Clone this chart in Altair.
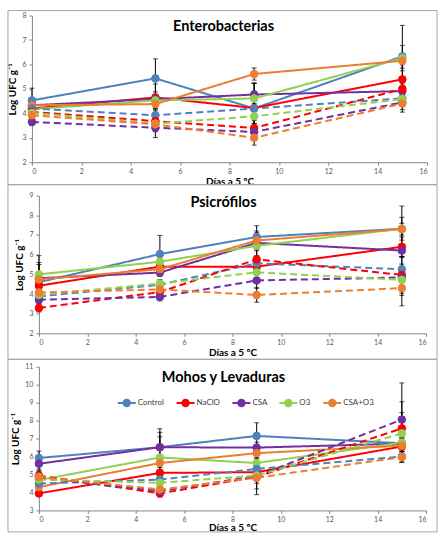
import altair as alt
import pandas as pd

DAYS = [0, 5, 9, 15]
TREATMENTS = ["Control", "NaClO", "CSA", "O3", "CSA+O3"]
COLORS = ["#4F81BD", "#FF0000", "#7030A0", "#92D050", "#ED7D31"]
X_TICKS = [0, 2, 4, 6, 8, 10, 12, 14, 16]

# Enterobacterias
ENT_SOLID = {
    "Control": [4.53, 5.43, 4.20, 6.33],
    "NaClO": [4.20, 4.65, 4.22, 5.39],
    "CSA": [4.33, 4.58, 4.77, 4.91],
    "O3": [4.17, 4.53, 4.61, 6.26],
    "CSA+O3": [4.33, 4.38, 5.61, 6.15],
}
ENT_DASHED = {
    "Control": [4.20, 3.92, 4.20, 4.61],
    "NaClO": [4.06, 3.68, 3.40, 5.00],
    "CSA": [3.65, 3.41, 3.24, 4.45],
    "O3": [4.02, 3.58, 3.88, 4.58],
    "CSA+O3": [3.92, 3.55, 3.00, 4.40],
}
ENT_SOLID_ERR = {
    "Control": [0.50, 0.80, 1.05, 1.27],
    "NaClO": [0.20, 0.55, 1.00, 0.60],
    "CSA": [0.15, 0.20, 0.45, 0.30],
    "O3": [0.15, 0.35, 0.30, 0.52],
    "CSA+O3": [0.10, 0.20, 0.25, 0.30],
}
ENT_DASHED_ERR = {
    "Control": [0.15, 0.30, 0.20, 0.20],
    "NaClO": [0.10, 0.35, 0.30, 0.30],
    "CSA": [0.15, 0.40, 0.35, 0.30],
    "O3": [0.10, 0.30, 0.30, 0.20],
    "CSA+O3": [0.10, 0.30, 0.30, 0.35],
}

# Psicrófilos
PSI_SOLID = {
    "Control": [4.60, 6.03, 6.90, 7.32],
    "NaClO": [4.42, 5.39, 5.39, 6.40],
    "CSA": [4.80, 5.09, 6.60, 6.21],
    "O3": [5.00, 5.64, 6.45, 7.32],
    "CSA+O3": [4.74, 5.26, 6.72, 7.30],
}
PSI_DASHED = {
    "Control": [3.88, 4.47, 5.56, 5.26],
    "NaClO": [3.29, 4.10, 5.76, 4.97],
    "CSA": [3.71, 3.85, 4.69, 4.84],
    "O3": [3.96, 4.53, 5.10, 4.72],
    "CSA+O3": [4.08, 4.23, 3.95, 4.30],
}
PSI_SOLID_ERR = {
    "Control": [0.90, 0.95, 0.57, 1.15],
    "NaClO": [0.30, 0.20, 0.40, 0.50],
    "CSA": [0.80, 0.20, 0.40, 0.30],
    "O3": [0.95, 0.30, 0.75, 0.58],
    "CSA+O3": [0.30, 0.30, 0.40, 0.30],
}
PSI_DASHED_ERR = {
    "Control": [0.20, 0.20, 0.40, 0.60],
    "NaClO": [0.20, 0.20, 0.50, 0.93],
    "CSA": [0.20, 0.20, 0.40, 0.40],
    "O3": [0.20, 0.20, 0.40, 0.80],
    "CSA+O3": [0.20, 0.30, 0.37, 0.90],
}

# Mohos y Levaduras
MOH_SOLID = {
    "Control": [5.92, 6.52, 7.15, 6.74],
    "NaClO": [3.95, 5.09, 5.13, 6.56],
    "CSA": [5.60, 6.52, 6.50, 6.72],
    "O3": [4.69, 5.95, 5.64, 6.78],
    "CSA+O3": [4.30, 5.64, 6.19, 6.61],
}
MOH_DASHED = {
    "Control": [4.50, 4.72, 5.31, 6.00],
    "NaClO": [4.94, 3.95, 4.87, 7.57],
    "CSA": [4.82, 4.08, 4.91, 8.06],
    "O3": [4.72, 4.54, 4.94, 7.29],
    "CSA+O3": [4.87, 4.17, 4.82, 5.97],
}
MOH_SOLID_ERR = {
    "Control": [0.38, 0.83, 0.73, 0.30],
    "NaClO": [0.15, 0.30, 0.30, 0.30],
    "CSA": [0.30, 1.03, 0.30, 0.30],
    "O3": [0.30, 1.15, 0.30, 0.30],
    "CSA+O3": [0.20, 0.40, 0.30, 0.30],
}
MOH_DASHED_ERR = {
    "Control": [0.30, 0.30, 0.30, 0.30],
    "NaClO": [0.30, 0.20, 0.67, 1.48],
    "CSA": [0.30, 0.30, 0.40, 2.04],
    "O3": [0.30, 0.30, 0.30, 1.16],
    "CSA+O3": [0.30, 0.20, 0.94, 0.30],
}

FONT = "Lato"
LEGEND_SYMBOL = ("M-1,0L1,0M-0.36,0A0.36,0.36,0,1,1,0.36,0"
                 "A0.36,0.36,0,1,1,-0.36,0Z")


def build_df(solid, dashed, solid_err, dashed_err):
    rows = []
    for kind, vals, errs in (("solid", solid, solid_err), ("dashed", dashed, dashed_err)):
        for t in TREATMENTS:
            for d, v, e in zip(DAYS, vals[t], errs[t]):
                rows.append({"day": d, "treatment": t, "kind": kind,
                             "value": v, "lo": v - e, "hi": v + e,
                             "sid": t + "_" + kind})
    return pd.DataFrame(rows)


def panel(title, solid, dashed, solid_err, dashed_err, ymin, ymax, width, height,
          inset, border, title_pos, show_legend, xtitle_pad):
    df = build_df(solid, dashed, solid_err, dashed_err)
    base = alt.Chart(df)
    xscale = alt.Scale(domain=[0, 16], nice=False, range=[inset, width])
    xaxis = alt.Axis(values=X_TICKS, title="Días a 5 ºC", titlePadding=xtitle_pad,
                     labelPadding=2, tickSize=3, labelOverlap=False)
    yscale = alt.Scale(domain=[ymin, ymax], nice=False)
    yaxis = alt.Axis(values=list(range(ymin, ymax + 1)), title="Log UFC g⁻¹",
                     titlePadding=4, labelPadding=3, tickSize=3, labelOverlap=False,
                     offset=-inset)

    def X(field):
        return alt.X(field, scale=xscale, axis=xaxis)

    def Y(field):
        return alt.Y(field, scale=yscale, axis=yaxis)

    color_scale = alt.Scale(domain=TREATMENTS, range=COLORS)
    if show_legend:
        leg = alt.Legend(orient="none", legendX=85, legendY=26, direction="horizontal",
                         columns=5, title=None, symbolType=LEGEND_SYMBOL,
                         symbolSize=324, symbolStrokeWidth=2, labelFont=FONT,
                         labelFontSize=8, labelColor="#404040", labelOffset=1,
                         columnPadding=8)
    else:
        leg = None

    bl, bt, br, bb = border
    frame = alt.Chart(pd.DataFrame({"k": [0]})).mark_rect(
        fill="white", fillOpacity=0, stroke="#A6A6A6", strokeWidth=1
    ).encode(x=alt.value(bl), x2=alt.value(width + br),
             y=alt.value(bt), y2=alt.value(height + bb))

    tx, ty = title_pos
    ttl = alt.Chart(pd.DataFrame({"t": [title]})).mark_text(
        font=FONT, fontSize=14.5, fontWeight="bold", color="black", baseline="middle"
    ).encode(text="t:N", x=alt.value(tx), y=alt.value(ty))

    rules = base.mark_rule(color="black", strokeWidth=1).encode(
        x=X("day:Q"), y=Y("lo:Q"), y2="hi:Q")
    cap_lo = base.mark_tick(color="black", orient="horizontal", size=5, thickness=1).encode(
        x=X("day:Q"), y=Y("lo:Q"))
    cap_hi = base.mark_tick(color="black", orient="horizontal", size=5, thickness=1).encode(
        x=X("day:Q"), y=Y("hi:Q"))
    lines = base.mark_line(strokeWidth=2).encode(
        x=X("day:Q"), y=Y("value:Q"),
        stroke=alt.Stroke("treatment:N", scale=color_scale, legend=leg),
        strokeDash=alt.StrokeDash("kind:N", scale=alt.Scale(domain=["solid", "dashed"],
                                                             range=[[1, 0], [7, 4]]),
                                  legend=None),
        detail="sid:N")
    points = base.mark_point(filled=True, size=58, opacity=1, strokeWidth=1).encode(
        x=X("day:Q"), y=Y("value:Q"),
        fill=alt.Fill("treatment:N", scale=color_scale, legend=leg),
        stroke=alt.Stroke("treatment:N", scale=color_scale, legend=leg),
        detail="sid:N")
    return alt.layer(frame, rules, cap_lo, cap_hi, lines, points, ttl).properties(
        width=width, height=height)


p1 = panel("Enterobacterias", ENT_SOLID, ENT_DASHED, ENT_SOLID_ERR, ENT_DASHED_ERR,
           2, 8, 396, 147, 0, (-24, -5, 10, 22.5), (192, 11.5), False, 2)
p2 = panel("Psicrófilos", PSI_SOLID, PSI_DASHED, PSI_SOLID_ERR, PSI_DASHED_ERR,
           2, 9, 395, 138, 7, (-24, -11, 11, 26), (192, 7), False, 2)
p3 = panel("Mohos y Levaduras", MOH_SOLID, MOH_DASHED, MOH_SOLID_ERR, MOH_DASHED_ERR,
           3, 11, 395, 144, 7, (-24, -7.5, 11, 21.5), (192, 11.5), True, 0)

chart = alt.concat(p1, p2, p3, columns=1, spacing=33.5, bounds="flush").resolve_scale(
    stroke="independent", fill="independent", strokeDash="independent",
    x="independent", y="independent"
).resolve_legend(stroke="independent", fill="independent").properties(
    padding={"left": 7, "top": 9, "right": 0, "bottom": 0}
).configure_view(stroke=None).configure_axis(
    grid=False, labelFont=FONT, labelFontSize=7, labelColor="#595959",
    domainColor="#868686", tickColor="#868686", titleFont=FONT, titleFontSize=10,
    titleFontWeight="bold", titleColor="black", labelOverlap=False
).configure_text(font=FONT)

chart.save("out.html", embed_options={"renderer": "svg", "actions": False})
